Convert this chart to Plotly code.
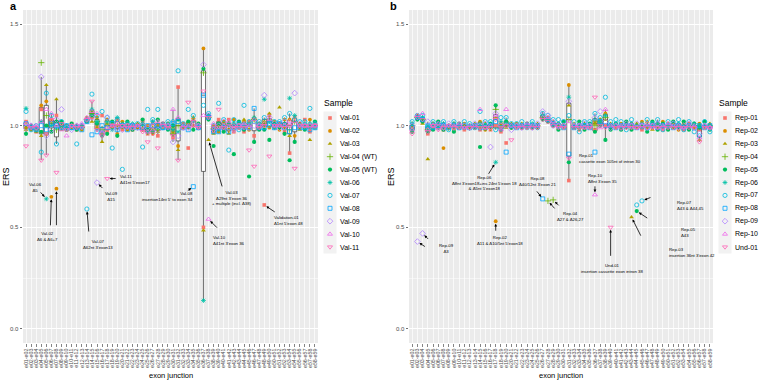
import plotly.graph_objects as go

# ---------------- data ----------------
junctions = ["e01-e02", "e02-e03", "e03-e04", "e04-e05", "e05-e06", "e06-e07", "e07-e08", "e08-e09",
             "e09-e10", "e10-e11", "e11-e12", "e12-e13", "e13-e14", "e14-e15", "e15-e16", "e16-e17",
             "e17-e18", "e18-e19", "e19-e20", "e20-e21", "e21-e22", "e22-e23", "e23-e24", "e24-e25",
             "e25-e26", "e26-e27", "e27-e28", "e28-e29", "e29-e30", "e30-e31", "e31-e32", "e32-e33",
             "e33-e34", "e34-e35", "e35-e36", "e36-e37", "e37-e38", "e38-e39", "e39-e40", "e40-e41",
             "e41-e42", "e42-e43", "e43-e44", "e44-e45", "e45-e46", "e46-e47", "e47-e48", "e48-e49",
             "e49-e50", "e50-e51", "e51-e52", "e52-e53", "e53-e54", "e54-e55", "e55-e56", "e56-e57",
             "e57-e58", "e58-e59"]

samples_a = ["Val-01", "Val-02", "Val-03", "Val-04 (WT)", "Val-05 (WT)", "Val-06",
             "Val-07", "Val-08", "Val-09", "Val-10", "Val-11"]
samples_b = ["Rep-01", "Rep-02", "Rep-03", "Rep-04", "Rep-05", "Rep-06",
             "Rep-07", "Rep-08", "Rep-09", "Rep-10", "Und-01"]

val01 = [1.02, 0.99, 0.97, 1.08, 0.96, 1.03, 1.05, 1.01, 0.98, 1.01, 0.98, 1.00, 1.02, 1.04, 1.00, 1.05,
         0.97, 1.01, 1.03, 0.98, 1.01, 0.98, 1.00, 1.02, 0.96, 1.01, 0.95, 1.01, 0.99, 0.94, 1.19, 1.01,
         0.89, 1.03, 0.99, 0.50, 1.05, 0.97, 1.03, 0.98, 1.03, 0.97, 1.01, 0.97, 1.02, 0.95, 1.01, 0.61,
         1.05, 0.99, 1.01, 0.97, 0.865, 1.04, 0.99, 1.03, 0.97, 1.01]
val02 = [0.99, 0.98, 0.99, 1.10, 1.12, 0.65, 0.69, 0.99, 1.00, 0.99, 1.00, 0.98, 1.04, 1.07, 1.04, 0.96,
         1.03, 0.99, 0.96, 1.02, 0.98, 1.00, 0.99, 0.98, 1.00, 0.96, 1.00, 0.99, 1.01, 0.97, 0.90, 0.99,
         1.01, 1.00, 1.01, 1.38, 1.04, 1.00, 0.97, 1.02, 0.98, 1.03, 0.99, 1.02, 0.98, 1.03, 0.99, 1.00,
         0.99, 1.02, 0.98, 1.03, 1.03, 0.95, 1.01, 0.99, 1.03, 0.99]
val03 = [0.98, 1.00, 0.97, 0.95, 1.20, 1.02, 1.13, 0.98, 0.99, 1.00, 0.99, 1.00, 1.03, 1.02, 0.99, 0.92,
         1.01, 1.00, 1.00, 0.99, 1.00, 0.99, 1.01, 0.99, 0.98, 0.99, 0.97, 1.00, 1.00, 0.99, 0.88, 1.00,
         0.99, 1.04, 1.00, 0.485, 0.93, 0.96, 1.00, 1.01, 0.96, 1.00, 1.00, 1.03, 1.00, 1.04, 1.00, 1.02,
         1.06, 1.00, 1.09, 0.99, 0.95, 1.02, 0.98, 1.00, 0.93, 1.00]
val04 = [1.00, 0.99, 0.98, 1.31, 1.05, 1.00, 0.98, 1.00, 0.99, 1.00, 0.99, 0.99, 1.03, 1.06, 1.02, 0.98,
         1.00, 1.00, 1.00, 1.00, 0.99, 0.99, 1.00, 1.00, 0.97, 0.98, 0.98, 1.00, 1.00, 0.96, 1.00, 1.00,
         1.00, 1.02, 1.00, 1.26, 1.04, 0.985, 0.99, 1.00, 1.00, 1.00, 1.00, 1.00, 1.00, 1.03, 1.00, 1.01,
         1.03, 1.00, 1.00, 1.00, 0.98, 1.02, 1.00, 1.00, 1.00, 1.00]
val05 = [0.96, 1.00, 0.99, 0.97, 1.00, 0.97, 1.02, 1.02, 0.98, 1.01, 0.98, 1.00, 1.02, 1.05, 1.01, 0.95,
         0.96, 1.02, 0.95, 1.00, 1.02, 0.98, 1.00, 1.03, 0.98, 0.97, 1.03, 1.01, 0.98, 1.00, 1.03, 1.00,
         1.02, 0.98, 1.01, 1.28, 1.03, 0.90, 1.01, 0.97, 1.01, 0.86, 1.02, 0.98, 0.75, 0.92, 0.98, 0.98,
         0.93, 1.01, 0.99, 0.96, 0.83, 0.92, 1.00, 0.98, 0.99, 1.02]
val06 = [1.085, 0.99, 0.98, 1.02, 0.64, 1.00, 0.99, 0.99, 1.00, 1.00, 1.00, 0.99, 1.03, 1.08, 1.02, 0.97,
         1.02, 0.98, 1.04, 1.01, 0.99, 1.01, 1.00, 1.01, 0.97, 1.02, 0.99, 1.00, 1.01, 0.98, 0.97, 1.00,
         1.00, 1.02, 1.00, 0.14, 1.05, 0.99, 0.98, 1.00, 1.00, 1.01, 0.99, 1.01, 1.01, 1.04, 1.01, 1.13,
         1.02, 0.99, 1.00, 1.01, 1.135, 1.05, 1.00, 1.01, 1.01, 0.99]
val07 = [1.07, 0.98, 1.00, 0.87, 1.16, 1.05, 0.91, 1.02, 0.99, 0.99, 0.91, 1.00, 0.59, 1.155, 1.05, 1.07,
         1.04, 0.89, 1.03, 0.785, 1.01, 1.00, 1.01, 0.895, 1.08, 1.03, 1.08, 0.99, 1.02, 1.02, 1.27, 1.01,
         1.08, 1.05, 0.99, 1.10, 1.06, 1.00, 1.11, 1.03, 0.88, 1.03, 0.98, 1.10, 1.02, 1.02, 1.02, 1.04,
         1.00, 1.02, 1.02, 1.04, 1.06, 1.03, 1.02, 1.02, 1.085, 1.01]
val08 = [1.01, 0.99, 0.98, 1.00, 0.98, 1.01, 1.00, 0.99, 1.00, 0.99, 0.99, 0.98, 1.02, 0.955, 0.97, 1.00,
         0.99, 1.01, 0.98, 1.00, 0.98, 1.00, 0.99, 0.99, 1.00, 1.00, 1.00, 0.99, 0.99, 1.01, 1.02, 0.99,
         0.98, 0.70, 0.99, 1.15, 1.04, 0.97, 0.97, 0.99, 0.97, 0.99, 1.01, 0.99, 0.99, 1.085, 0.99, 0.99,
         1.01, 0.99, 1.01, 0.99, 0.97, 0.99, 0.99, 0.99, 0.98, 0.99]
val09 = [0.99, 1.00, 0.99, 1.24, 0.95, 0.98, 1.03, 1.08, 0.99, 0.98, 1.00, 1.00, 1.03, 1.04, 0.72, 0.96,
         1.04, 0.99, 0.99, 0.98, 1.00, 0.99, 0.99, 1.00, 0.99, 1.00, 0.98, 1.00, 1.00, 0.92, 0.95, 0.99,
         0.99, 1.01, 1.00, 1.30, 1.05, 0.98, 1.00, 1.02, 0.99, 0.98, 1.00, 1.00, 0.99, 1.00, 1.00, 1.15,
         1.04, 1.01, 0.99, 1.02, 1.00, 1.16, 1.01, 1.00, 1.00, 1.00]
val10 = [1.01, 1.00, 1.00, 1.02, 1.08, 1.06, 1.00, 0.98, 0.95, 1.00, 1.00, 1.01, 1.04, 1.07, 1.06, 0.97,
         0.99, 1.00, 1.01, 1.00, 1.00, 1.00, 1.00, 0.98, 0.97, 0.98, 1.02, 1.01, 1.00, 1.08, 1.04, 1.00,
         1.00, 1.00, 1.00, 1.05, 0.54, 1.01, 0.99, 1.00, 1.02, 1.00, 1.00, 1.01, 1.00, 1.03, 1.00, 1.01,
         1.03, 1.00, 1.00, 1.00, 1.02, 1.02, 1.00, 1.00, 1.00, 1.00]
val11 = [0.90, 0.99, 0.99, 0.83, 0.855, 1.03, 0.77, 1.01, 0.98, 1.00, 0.99, 0.99, 1.03, 1.12, 0.98, 0.95,
         0.74, 1.00, 1.00, 1.00, 0.99, 0.99, 1.00, 0.97, 0.92, 0.96, 0.89, 1.00, 0.99, 0.95, 0.83, 0.99,
         1.115, 1.02, 0.99, 1.17, 1.04, 0.99, 1.08, 0.99, 1.00, 0.99, 0.99, 0.99, 0.88, 0.80, 0.99, 1.00,
         0.85, 1.00, 1.00, 0.99, 1.00, 0.79, 1.00, 1.00, 0.99, 1.00]

rep01 = [1.00, 1.04, 1.02, 0.96, 0.99, 1.01, 0.98, 0.99, 1.00, 1.00, 0.98, 0.99, 1.00, 0.98, 1.00, 0.98,
         1.00, 0.97, 0.915, 1.00, 1.00, 0.99, 1.00, 0.99, 1.00, 1.04, 1.02, 1.01, 0.99, 1.00, 0.73, 1.00,
         0.98, 1.00, 0.99, 0.98, 1.01, 1.00, 0.99, 1.00, 0.99, 1.01, 0.99, 1.00, 0.98, 1.00, 0.99, 1.01,
         0.98, 1.00, 0.99, 1.00, 0.98, 1.01, 1.00, 0.98, 1.00, 0.99]
rep02 = [0.98, 1.05, 1.03, 0.99, 1.01, 0.99, 0.89, 1.00, 0.98, 1.00, 1.01, 1.00, 0.99, 1.02, 0.98, 1.00,
         0.53, 1.01, 1.02, 0.99, 1.01, 1.00, 0.99, 1.00, 0.99, 1.05, 1.04, 1.00, 1.01, 0.99, 1.20, 0.99,
         1.01, 0.99, 1.00, 1.02, 1.03, 1.06, 1.00, 0.99, 1.01, 1.00, 1.01, 0.99, 1.02, 0.99, 1.01, 1.00,
         1.02, 0.99, 1.01, 0.98, 1.01, 1.00, 0.99, 1.01, 0.99, 1.00]
rep03 = [0.99, 1.04, 1.01, 0.835, 0.98, 1.00, 1.00, 0.99, 1.01, 0.99, 1.00, 0.99, 1.01, 0.99, 1.01, 0.99,
         1.04, 1.00, 0.99, 1.01, 0.99, 1.01, 1.00, 1.00, 1.01, 1.04, 1.03, 1.02, 1.00, 1.01, 1.10, 1.01,
         0.99, 1.01, 1.00, 1.01, 1.02, 1.03, 1.01, 1.00, 1.00, 0.99, 0.55, 1.01, 1.00, 1.02, 0.98, 1.00,
         1.00, 1.01, 0.99, 1.00, 1.01, 0.99, 1.00, 0.93, 1.00, 1.01]
rep04 = [1.00, 1.04, 1.03, 0.98, 1.00, 1.00, 0.99, 0.99, 0.99, 1.00, 1.00, 0.99, 1.00, 1.00, 0.99, 0.99,
         1.08, 0.99, 1.00, 1.00, 1.00, 1.00, 1.00, 1.00, 1.00, 1.04, 0.63, 0.635, 1.00, 1.00, 1.03, 1.00,
         0.99, 1.00, 1.00, 1.00, 1.02, 1.04, 1.00, 1.00, 1.00, 1.00, 1.00, 1.00, 1.00, 1.00, 1.00, 1.00,
         1.00, 1.00, 1.00, 1.00, 1.00, 1.00, 1.00, 1.00, 1.00, 1.00]
rep05 = [0.97, 1.03, 1.02, 0.97, 0.98, 1.02, 0.98, 1.00, 0.97, 1.01, 0.99, 1.00, 0.99, 0.895, 1.00, 1.01,
         1.10, 0.98, 1.02, 0.99, 1.00, 0.99, 1.01, 0.99, 1.00, 1.03, 1.02, 1.00, 0.98, 1.02, 0.82, 0.99,
         1.02, 0.98, 1.01, 0.97, 1.00, 0.93, 0.98, 1.01, 0.98, 1.02, 0.98, 0.58, 0.99, 0.97, 1.02, 0.98,
         1.01, 0.98, 1.02, 0.99, 1.02, 0.98, 1.01, 0.99, 1.02, 0.98]
rep06 = [1.01, 1.04, 1.04, 1.00, 1.01, 0.99, 1.01, 1.00, 1.01, 1.00, 0.99, 1.00, 1.00, 1.01, 1.00, 1.00,
         0.82, 1.02, 1.01, 1.00, 1.00, 1.00, 1.00, 1.01, 1.00, 1.05, 1.03, 1.01, 1.01, 1.00, 1.14, 1.00,
         1.00, 1.00, 1.00, 1.03, 1.02, 1.05, 1.00, 1.01, 1.00, 1.00, 1.01, 1.00, 1.01, 1.00, 1.00, 1.01,
         1.00, 1.00, 1.00, 1.01, 1.00, 1.00, 1.01, 1.00, 1.00, 1.00]
rep07 = [1.02, 1.05, 1.05, 0.99, 1.02, 1.01, 1.02, 0.98, 1.02, 0.99, 1.02, 1.01, 0.99, 1.07, 1.02, 1.02,
         0.98, 1.04, 1.04, 1.01, 1.01, 1.02, 0.99, 1.02, 0.99, 1.06, 1.05, 1.03, 1.03, 1.02, 1.05, 1.02,
         0.97, 1.02, 1.02, 1.06, 1.04, 1.14, 1.02, 1.03, 1.02, 0.98, 1.03, 0.61, 0.63, 1.03, 1.01, 1.03,
         0.98, 1.02, 1.01, 1.03, 0.98, 1.02, 0.97, 0.95, 1.02, 0.97]
rep08 = [0.99, 1.04, 1.03, 1.00, 0.99, 1.00, 1.00, 0.99, 1.00, 0.99, 1.00, 0.99, 1.00, 0.99, 0.99, 1.00,
         1.02, 0.99, 0.87, 1.00, 0.99, 1.00, 1.00, 1.00, 1.00, 0.64, 1.03, 1.01, 1.00, 0.99, 0.86, 0.99,
         1.00, 1.00, 0.99, 0.87, 1.02, 1.00, 1.00, 0.99, 1.00, 1.00, 1.00, 0.99, 1.00, 0.99, 1.00, 0.99,
         1.00, 1.00, 0.99, 1.00, 0.99, 1.00, 0.99, 1.00, 0.99, 1.00]
rep09 = [1.00, 0.43, 0.47, 1.02, 1.00, 0.99, 0.99, 1.01, 0.99, 1.00, 1.00, 0.99, 1.01, 1.00, 1.01, 0.895,
         1.06, 1.00, 1.00, 0.98, 1.00, 0.99, 1.00, 0.99, 1.01, 1.07, 1.05, 1.00, 1.00, 1.00, 1.12, 1.00,
         1.00, 1.01, 1.00, 1.04, 1.07, 1.02, 0.99, 1.00, 0.99, 1.01, 1.00, 1.01, 1.00, 0.99, 1.00, 1.01,
         0.99, 1.00, 1.01, 0.99, 1.00, 1.01, 0.99, 0.96, 1.00, 0.99]
rep10 = [0.98, 1.05, 1.06, 0.98, 1.00, 1.01, 1.00, 1.00, 1.00, 1.01, 0.99, 1.00, 1.00, 1.08, 0.99, 1.00,
         1.05, 0.98, 1.08, 1.00, 1.00, 1.00, 1.01, 1.00, 1.00, 1.04, 1.04, 1.02, 1.00, 1.00, 1.02, 1.00,
         1.00, 0.99, 1.00, 0.66, 0.99, 1.08, 1.00, 1.00, 1.00, 1.00, 1.00, 0.99, 1.00, 1.01, 1.00, 0.99,
         1.00, 1.01, 1.00, 1.00, 0.99, 1.00, 1.00, 0.94, 1.00, 0.99]
und01 = [0.96, 1.04, 1.03, 0.97, 1.00, 0.98, 0.99, 1.00, 0.99, 0.99, 0.99, 0.99, 0.99, 0.99, 0.99, 0.99,
         1.03, 0.99, 1.00, 0.93, 0.99, 0.99, 0.99, 0.99, 0.99, 1.03, 1.02, 1.00, 0.99, 0.99, 0.84, 0.99,
         0.99, 0.99, 0.99, 1.14, 1.00, 0.99, 0.50, 0.99, 0.99, 0.99, 0.99, 0.99, 0.99, 0.99, 0.99, 0.99,
         0.99, 0.99, 0.99, 0.99, 0.99, 0.99, 0.99, 0.92, 0.99, 0.99]

vals_a = [val01, val02, val03, val04, val05, val06, val07, val08, val09, val10, val11]
vals_b = [rep01, rep02, rep03, rep04, rep05, rep06, rep07, rep08, rep09, rep10, und01]

# ---------------- styling ----------------
colors = ["#F8766D", "#DB8E00", "#AEA200", "#64B200", "#00BD5C", "#00C1A7",
          "#00BADE", "#00A6FF", "#B385FF", "#EF67EB", "#FF63B6"]
symbols = ["square", "circle", "triangle-up", "cross-thin-open", "circle", "asterisk-open",
           "circle-open", "square-open", "diamond-open", "triangle-up-open", "triangle-down-open"]
sizes = [3.6, 3.8, 4.2, 4.5, 4.2, 4, 4.2, 4, 4.4, 4.4, 4.4]

W, H = 760, 381
FONT = "Liberation Sans, Arial, sans-serif"
N = len(junctions)


def px(p):
    return p / W


def py(p):
    return 1 - p / H


def marker(i):
    is_open = symbols[i].endswith("open")
    return dict(symbol=symbols[i], color=colors[i], size=sizes[i],
                line=dict(width=0.8 if is_open else 0, color=colors[i]))


fig = go.Figure()


def add_panel(vals, xa, ya):
    bx, by = [], []
    for v in vals:
        bx += list(range(N))
        by += v
    fig.add_trace(go.Box(x=bx, y=by, xaxis=xa, yaxis=ya, boxpoints="outliers",
                         marker=dict(opacity=0, size=1),
                         quartilemethod="inclusive", fillcolor="white",
                         line=dict(color="#333333", width=0.7), whiskerwidth=0,
                         width=0.8, showlegend=False, hoverinfo="skip"))
    for i, v in enumerate(vals):
        fig.add_trace(go.Scatter(x=list(range(N)), y=v, mode="markers", xaxis=xa, yaxis=ya,
                                 marker=marker(i), showlegend=False, hoverinfo="skip"))


add_panel(vals_a, "x", "y")
add_panel(vals_b, "x2", "y2")

# ---------------- axes ----------------
ydom = [py(343), py(10)]


def yaxis_cfg(anchor):
    return dict(range=[-0.069, 1.569], tickvals=[0, 0.5, 1.0, 1.5],
                ticktext=["0.0", "0.5", "1.0", "1.5"], showgrid=True, gridcolor="white",
                gridwidth=1, zeroline=False, ticks="outside", ticklen=2.5, tickwidth=0.7,
                tickcolor="#333333", tickfont=dict(size=6, color="#4D4D4D", family=FONT),
                minor=dict(tickvals=[0.25, 0.75, 1.25], showgrid=True, gridcolor="white",
                           gridwidth=0.5, ticks=""),
                domain=ydom, anchor=anchor, showline=False, fixedrange=True)


def xaxis_cfg(anchor, dom):
    return dict(range=[-0.6, N - 0.4], tickvals=list(range(N)), ticktext=junctions,
                tickangle=-90, tickfont=dict(size=5.3, color="#4D4D4D", family=FONT),
                showgrid=True, gridcolor="white", gridwidth=0.7, zeroline=False,
                ticks="outside", ticklen=2.5, tickwidth=0.6, tickcolor="#333333",
                domain=dom, anchor=anchor, showline=False, fixedrange=True)


fig.update_layout(
    width=W, height=H, margin=dict(l=0, r=0, t=0, b=0),
    paper_bgcolor="white", plot_bgcolor="rgba(0,0,0,0)",
    font=dict(family=FONT, color="black"),
    showlegend=False, hovermode=False,
    xaxis=xaxis_cfg("y", [px(23), px(318)]),
    yaxis=yaxis_cfg("x"),
    xaxis2=xaxis_cfg("y2", [px(409), px(713)]),
    yaxis2=yaxis_cfg("x2"),
    xaxis3=dict(domain=[0, 1], range=[0, W], visible=False, anchor="y3", fixedrange=True),
    yaxis3=dict(domain=[0, 1], range=[H, 0], visible=False, anchor="x3", fixedrange=True),
)

shapes = []
for xr, yr in (("x domain", "y domain"), ("x2 domain", "y2 domain")):
    shapes.append(dict(type="rect", xref=xr, yref=yr, x0=0, x1=1, y0=0, y1=1,
                       fillcolor="#EBEBEB", line=dict(width=0), layer="below"))

annotations = []


def txt(s, x, y, size=8, xanchor="center", yanchor="middle", angle=0, bold=False, color="#000000",
        align="center"):
    annotations.append(dict(text=("<b>%s</b>" % s) if bold else s, x=px(x), y=py(y),
                            xref="paper", yref="paper", showarrow=False, xanchor=xanchor,
                            yanchor=yanchor, textangle=angle, align=align, borderpad=0,
                            font=dict(size=size, color=color, family=FONT)))


# panel letters & axis titles
txt("a", 14, 6, size=11, bold=True)
txt("b", 393, 6, size=11, bold=True)
txt("ERS", 6, 177, size=9, angle=-90)
txt("ERS", 391, 177, size=9, angle=-90)
txt("exon junction", (23 + 318) / 2, 375.5, size=7.5)
txt("exon junction", (409 + 713) / 2, 375.5, size=7.5)

# ---------------- custom legends ----------------
legend_pos = [(323, 330, 339, samples_a), (718, 725, 734, samples_b)]
for tx, kx, lx, names in legend_pos:
    txt("Sample", tx, 103, size=8.5, xanchor="left")
    shapes.append(dict(type="rect", xref="paper", yref="paper", x0=px(kx - 6.5), x1=px(kx + 6.5),
                       y0=py(111.5), y1=py(253.5), fillcolor="#F2F2F2", line=dict(width=0),
                       layer="below"))
    for i, name in enumerate(names):
        yy = 118 + 12.9 * i
        fig.add_trace(go.Scatter(x=[kx], y=[yy], xaxis="x3", yaxis="y3", mode="markers",
                                 marker=marker(i), showlegend=False, hoverinfo="skip"))
        txt(name, lx, yy, size=7, xanchor="left")

# ---------------- annotations with arrows ----------------
ANN = 4.3


def note(text, x, y, xanchor="center", align="center"):
    annotations.append(dict(text=text, x=px(x), y=py(y), xref="paper", yref="paper",
                            showarrow=False, xanchor=xanchor, yanchor="middle", align=align,
                            borderpad=0, font=dict(size=ANN, color="#000000", family=FONT)))


def arrow(xa, ya, vals, si, idx, dx, dy):
    annotations.append(dict(text="", x=idx, y=vals[si][idx], xref=xa, yref=ya,
                            ax=dx, ay=dy, showarrow=True, arrowhead=2, arrowsize=0.7,
                            arrowwidth=0.8, arrowcolor="black", standoff=2.5))


# panel a
note("Val-06<br>Δ5", 35, 187)
arrow("x", "y", vals_a, 5, 4, -7, -8)
note("Val-02<br>Δ6 & Δ6+7", 47, 236)
arrow("x", "y", vals_a, 1, 5, -1, 30)
arrow("x", "y", vals_a, 1, 6, 0, 38)
note("Val-07<br>Δ62nt 3'exon13", 98, 244)
arrow("x", "y", vals_a, 6, 12, 2, 24)
note("Val-09<br>Δ15", 111, 196)
arrow("x", "y", vals_a, 8, 14, 7, 7)
note("Val-11<br>Δ41nt 5'exon17", 119, 179, xanchor="left", align="left")
arrow("x", "y", vals_a, 10, 16, 10, 0)
note("Val-08<br>insertion14nt 5' to exon 34", 194, 196, xanchor="right", align="right")
arrow("x", "y", vals_a, 7, 33, -7, 5)
note("Val-03<br>Δ29nt 3'exon 36<br>+ multiple (incl. Δ38)", 232, 198)
arrow("x", "y", vals_a, 2, 36, 14, 48)
note("Val-10<br>Δ41nt 3'exon 36", 212, 240, xanchor="left", align="left")
arrow("x", "y", vals_a, 9, 36, 10, 10)
note("Validation-01<br>Δ1nt 5'exon 48", 273, 220, xanchor="left", align="left")
arrow("x", "y", vals_a, 0, 47, 12, 8)

# panel b
note("Rep-09<br>Δ3", 446, 249)
arrow("x2", "y2", vals_b, 8, 1, 9, 6)
arrow("x2", "y2", vals_b, 8, 2, 7, 7)
note("Rep-06<br>Δ8nt 3'exon18+ins 24nt 5'exon 18<br>& Δ5nt 5'exon18", 484, 183)
arrow("x2", "y2", vals_b, 5, 16, -8, 13)
note("Rep-02<br>Δ11 & Δ10/5nt 5'exon18", 500, 240)
arrow("x2", "y2", vals_b, 1, 16, 0, 11)
note("Rep-08<br>Δ40/12nt 3'exon 21", 538, 181)
arrow("x2", "y2", vals_b, 7, 25, -7, -9)
note("Rep-04<br>Δ27 & Δ26,27", 570, 216)
arrow("x2", "y2", vals_b, 3, 26, 8, 9)
arrow("x2", "y2", vals_b, 3, 27, 7, 7)
note("Rep-01<br>cassette exon 105nt of intron 30", 578, 159, xanchor="left", align="left")
note("Rep-10<br>Δ8nt 3'exon 35", 587, 178, xanchor="left", align="left")
arrow("x2", "y2", vals_b, 9, 35, 0, -10)
note("Und-01<br>insertion cassette exon intron 38", 612, 268)
arrow("x2", "y2", vals_b, 10, 38, 0, 30)
note("Rep-07<br>Δ43 & Δ44,45", 676, 205, xanchor="left", align="left")
arrow("x2", "y2", vals_b, 6, 44, 10, -4)
note("Rep-05<br>Δ43", 680, 232, xanchor="left", align="left")
arrow("x2", "y2", vals_b, 4, 43, 12, 8)
note("Rep-03<br>insertion 36nt 3'exon 42", 668, 252, xanchor="left", align="left")
arrow("x2", "y2", vals_b, 2, 42, 10, 20)

fig.update_layout(shapes=shapes, annotations=annotations)
fig.write_html("out.html", config={"displayModeBar": False, "staticPlot": True},
               post_script="document.body.style.margin='0';")
